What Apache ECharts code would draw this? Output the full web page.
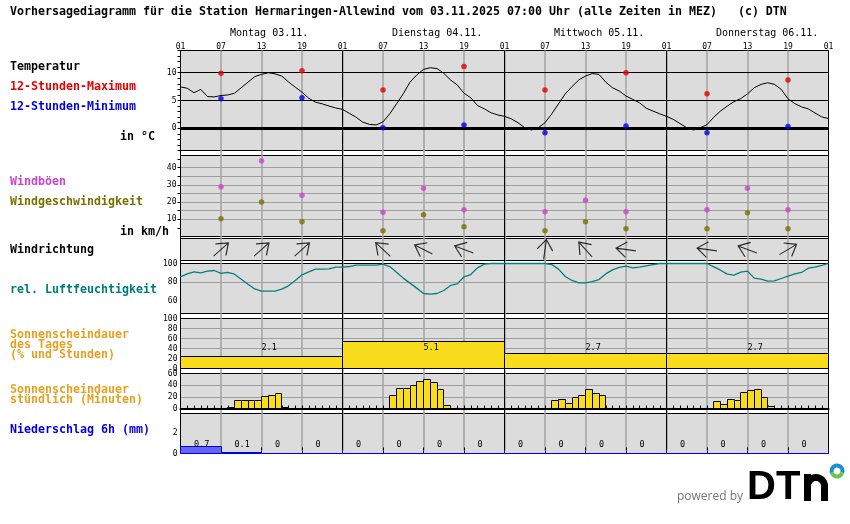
<!DOCTYPE html>
<html>
<head>
<meta charset="utf-8">
<title>Vorhersagediagramm</title>
<script src="https://cdn.jsdelivr.net/npm/echarts@6/dist/echarts.min.js"></script>
<style>
  html, body { margin: 0; padding: 0; background: #fff; }
  #main { width: 850px; height: 524px; }
</style>
</head>
<body>
<div id="main"></div>
<script>
// Stunden ab 01 Uhr am Montag, alle Reihen laufen ueber 96 Stunden
const hourLabels = ['01', '07', '13', '19', '01', '07', '13', '19', '01', '07', '13', '19', '01', '07', '13', '19', '01']
const dayLabels = ['Montag 03.11.', 'Dienstag 04.11.', 'Mittwoch 05.11.', 'Donnerstag 06.11.']

const tempLine = [
  7.45, 7.2, 6.4, 7.0, 5.7, 5.65, 5.9, 6.0, 6.3, 7.3, 8.3, 9.3, 9.7, 10, 9.8, 9.4, 8.35, 7.4, 6.5, 5.4, 4.7, 4.4, 4.0, 3.65,
  3.4, 2.7, 2.0, 1.1, 0.7, 0.6, 1.15, 2.6, 4.4, 6.2, 8.3, 9.6, 10.6, 10.9, 10.75, 9.9, 8.7, 7.8, 6.3, 5.5, 4.1, 3.5, 2.8, 2.4,
  2.15, 1.7, 1.0, 0.1, -0.3, 0.1, 1.0, 2.6, 4.4, 6.2, 7.5, 8.7, 9.4, 9.85, 9.7, 8.3, 7.3, 6.7, 5.8, 5.2, 4.6, 3.6, 3.1, 2.6,
  2.15, 1.6, 0.85, 0.1, -0.3, 0.1, 0.65, 2.0, 3.1, 4.0, 4.8, 5.35, 6.2, 7.3, 7.9, 8.2, 7.9, 7.0, 5.3, 4.45, 3.85, 3.5, 2.75, 2.05, 1.75
]
const humidityLine = [
  85.9, 89, 91.2, 90.1, 91.9, 92.6, 89.5, 90.5, 88.7, 83.4, 78, 73, 70.7, 70.7, 70.7, 72.8, 76.3, 82, 88, 91.2, 94, 94, 94.3, 96.1,
  96.1, 96.8, 98.2, 98.2, 98.2, 98.2, 99.3, 96.8, 90.8, 84.5, 79.2, 73.9, 68.2, 67.5, 68.2, 71.4, 76.7, 78.4, 85.9, 88.3, 95.4, 99.3, 100, 100,
  100, 100, 100, 100, 100, 100, 100, 98.9, 94, 86.2, 82, 79.5, 79.5, 80.9, 83, 89, 93.3, 95.8, 97.2, 95.4, 96.1, 97.5, 98.9, 100,
  100, 100, 100, 100, 100, 100, 100, 96.5, 92.9, 88.7, 87.6, 90.8, 91.9, 84.5, 83.4, 81.3, 81.6, 84.1, 86.6, 89, 90.5, 95, 96.1, 97.9, 100
]

// Punktwerte gehoeren zu den Stunden 07, 13 und 19
const tempHours = [6, 18, 30, 42, 54, 66, 78, 90]
const tempMax = [9.9, 10.35, 6.9, 11.1, 6.9, 10, 6.2, 8.7]
const tempMin = [5.3, 5.5, 0.1, 0.6, -0.8, 0.4, -0.8, 0.3]

const windHours = [6, 12, 18, 30, 36, 42, 54, 60, 66, 78, 84, 90]
const windGust = [28.9, 44, 24, 14, 28, 15.5, 14.3, 21, 14.3, 15.5, 28, 15.5]
const windSpeed = [10.3, 20, 8.5, 3.3, 12.6, 5.6, 3.3, 8.5, 4.5, 4.5, 13.8, 4.5]
const windPointing = [48, 48, 48, 313, 297, 291, 8, 318, 278, 278, 291, 59]

const sunDayValues = [24, 55, 30, 30]
const sunDayLabels = ['2.1', '5.1', '2.7', '2.7']

const sunHours = [7, 8, 9, 10, 11, 12, 13, 14, 15,
  31, 32, 33, 34, 35, 36, 37, 38, 39,
  55, 56, 57, 58, 59, 60, 61, 62,
  79, 80, 81, 82, 83, 84, 85, 86, 87]
const sunMinutes = [1, 13.7, 14, 14, 14, 20, 22, 25.7, 1.7,
  22, 34, 34, 39, 46, 50, 44.6, 32.6, 5,
  13.7, 15.4, 8.6, 18.9, 22, 32.6, 25.7, 22,
  12, 6.9, 15.4, 13.7, 27.4, 30.9, 32.6, 18.9, 3.4]

const rainValues = [0.7, 0.1, 0, 0, 0, 0, 0, 0, 0, 0, 0, 0, 0, 0, 0, 0]

const tempTicks = [-4, -3, -2, -1, 0, 1, 2, 3, 4, 5, 6, 7, 8, 9, 10, 11, 12, 13, 14]
const tempLines = [5, 10]
const windTicks = [5, 10, 15, 20, 25, 30, 35, 40, 45]
const humidityTicks = [60, 80, 100]
const rainTicks = [0, 2]

const MONO = '"DejaVu Sans Mono", monospace'
const GREY = '#9e9e9e'
const PANEL = '#dcdcdc'
const SUN = '#f9dc1c'
const LOGO_FONT = 'bold 40px "Liberation Sans", sans-serif'

// Panels von oben nach unten, top/height in Pixeln
const panels = [
  { top: 50.5, height: 100 },
  { top: 155.5, height: 81 },
  { top: 238.5, height: 22 },
  { top: 263.5, height: 50 },
  { top: 318.5, height: 50 },
  { top: 373.5, height: 35 },
  { top: 413.5, height: 40 }
]

const sideLabels = [
  ['Temperatur', 10, 67, '#000'],
  ['12-Stunden-Maximum', 10, 87, '#e60000'],
  ['12-Stunden-Minimum', 10, 107, '#0000e6'],
  ['in °C', 120, 137, '#000'],
  ['Windböen', 10, 182, '#cc44cc'],
  ['Windgeschwindigkeit', 10, 202, '#7a7000'],
  ['in km/h', 120, 232, '#000'],
  ['Windrichtung', 10, 250, '#000'],
  ['rel. Luftfeuchtigkeit', 10, 290, '#007b7b'],
  ['Sonnenscheindauer', 10, 335, '#e8a020'],
  ['des Tages', 10, 345, '#e8a020'],
  ['(% und Stunden)', 10, 355, '#e8a020'],
  ['Sonnenscheindauer', 10, 390, '#e8a020'],
  ['stündlich (Minuten)', 10, 400, '#e8a020'],
  ['Niederschlag 6h (mm)', 10, 430, '#0000e6']
]

function zip(xs, ys) {
  return xs.map((x, i) => [x, ys[i]])
}

function crisp(v) {
  return Math.round(v - 0.5) + 0.5
}

// Rechteck von Stunde a bis b, optional mit Text (value(3)) auf Hoehe textY
function blockItem(fill, stroke, textY) {
  return function (params, api) {
    const from = api.coord([api.value(0), api.value(2)])
    const to = api.coord([api.value(1), 0])
    const children = []
    if (api.value(2) > 0) {
      const x = crisp(from[0])
      const y = crisp(from[1])
      children.push({
        type: 'rect',
        shape: { x: x, y: y, width: crisp(to[0]) - x, height: crisp(to[1]) - y },
        style: { fill: fill, stroke: stroke, lineWidth: 1 }
      })
    }
    if (textY !== undefined) {
      const pos = api.coord([api.value(4), textY])
      children.push({
        type: 'text',
        x: pos[0],
        y: pos[1],
        style: { text: String(api.value(3)), font: '8.5px ' + MONO, fill: '#000', textAlign: 'left', textVerticalAlign: 'middle' },
        z2: 10
      })
    }
    return { type: 'group', children: children }
  }
}

function panelX(grid, extra) {
  return Object.assign({
    type: 'value', gridIndex: grid, min: 0, max: 96, interval: 24,
    axisLine: { show: false }, axisTick: { show: false }, axisLabel: { show: false }, splitLine: { show: false }
  }, extra || {})
}

function panelY(grid, min, max, extra) {
  return Object.assign({
    type: 'value', gridIndex: grid, min: min, max: max,
    axisLine: { show: false },
    axisTick: { show: false },
    axisLabel: { show: false },
    splitLine: { show: false }
  }, extra || {})
}

const labelStyle = { show: true, fontFamily: MONO, fontSize: 8, color: '#000', margin: 3 }
const greyLine = { show: true, lineStyle: { color: '#a3a3a3', width: 1.5 }, showMinLine: false, showMaxLine: false }

const grids = [
  { left: 180.5, width: 648, top: 50.5, height: 400, show: false }
].concat(panels.map(p => ({
  left: 180.5, width: 648, top: p.top, height: p.height,
  show: true, backgroundColor: PANEL, borderColor: '#000', borderWidth: 1
})))

const xAxes = [
  // durchgehende Stundenlinien ueber alle Panels
  panelX(0, {
    position: 'top', interval: 6, z: 1,
    axisTick: { show: true, length: 3, lineStyle: { color: '#000' } },
    axisLabel: { show: true, fontFamily: MONO, fontSize: 8, color: '#000', margin: 0, formatter: v => hourLabels[v / 6] },
    splitLine: greyLine
  }),
  panelX(0, {
    position: 'bottom', interval: 24, z: 1,
    splitLine: { show: true, lineStyle: { color: '#000', width: 1 } }
  }),
  panelX(1), panelX(2), panelX(3), panelX(4), panelX(5),
  panelX(6, {
    interval: 1, z: 1,
    axisLine: { show: true, lineStyle: { color: '#000', width: 2 } },
    axisTick: { show: true, inside: true, length: 3, lineStyle: { color: '#000' } }
  }),
  panelX(7, {
    interval: 6, z: 1,
    axisLine: { show: true, lineStyle: { color: '#0000e6', width: 1 } },
    axisTick: { show: true, inside: true, length: 3, lineStyle: { color: '#0000e6', width: 1 } }
  })
]

const innerLines = { show: true, showMinLine: false, showMaxLine: false, lineStyle: { color: GREY, width: 1 } }

const yAxes = [
  panelY(0, 0, 1),
  panelY(1, -4, 14, {
    axisTick: { show: true, length: 3, lineStyle: { color: '#000' }, customValues: tempTicks },
    axisLabel: Object.assign({}, labelStyle, { margin: 4, customValues: [0].concat(tempLines) })
  }),
  panelY(2, 0, 47, {
    axisTick: { show: true, length: 3, lineStyle: { color: '#000' }, customValues: windTicks },
    axisLabel: Object.assign({}, labelStyle, { margin: 4, customValues: windTicks.filter(v => v % 10 === 0) }),
    splitLine: innerLines
  }),
  panelY(3, 0, 1),
  panelY(4, 47, 100, {
    axisTick: { show: false, customValues: humidityTicks },
    axisLabel: Object.assign({}, labelStyle, { customValues: humidityTicks }),
    splitLine: innerLines
  }),
  panelY(5, 0, 100, { interval: 20, axisLabel: labelStyle, splitLine: innerLines }),
  panelY(6, 0, 60, { interval: 20, axisLabel: labelStyle, splitLine: innerLines }),
  panelY(7, 0, 3.9, {
    axisTick: { show: false, customValues: rainTicks },
    axisLabel: Object.assign({}, labelStyle, { customValues: rainTicks }),
    splitLine: innerLines
  })
]

function dotSeries(panel, xs, ys, color) {
  return {
    type: 'scatter', xAxisIndex: panel + 1, yAxisIndex: panel,
    data: zip(xs, ys), symbol: 'circle', symbolSize: 5.5, silent: true,
    itemStyle: { color: color }, z: 5
  }
}

const series = [
  {
    type: 'line', xAxisIndex: 2, yAxisIndex: 1,
    data: tempLine.map((v, h) => [h, v]),
    showSymbol: false, silent: true, z: 4,
    lineStyle: { color: '#000', width: 1 },
    markLine: {
      silent: true, symbol: 'none', label: { show: false }, animation: false,
      data: tempLines.map(v => ({ yAxis: v, lineStyle: { color: '#000', width: 1, type: 'solid' } }))
        .concat([{ yAxis: 0, lineStyle: { color: '#000', width: 3, type: 'solid' } }])
    }
  },
  dotSeries(1, tempHours, tempMax, '#e60000'),
  dotSeries(1, tempHours, tempMin, '#0000e6'),
  dotSeries(2, windHours, windGust, '#cc44cc'),
  dotSeries(2, windHours, windSpeed, '#7a7000'),
  {
    type: 'scatter', xAxisIndex: 4, yAxisIndex: 3, silent: true, z: 5,
    data: windHours.map((h, i) => ({ value: [h, 0.5], symbolRotate: -windPointing[i] })),
    symbol: 'path://M0,-10 L0,10 M-7.8,0.4 L0,-10 L7.8,0.4',
    symbolSize: [15.6, 20],
    itemStyle: { color: 'rgba(0,0,0,0)', borderColor: '#000', borderWidth: 1.2 }
  },
  {
    type: 'line', xAxisIndex: 5, yAxisIndex: 4,
    data: humidityLine.map((v, h) => [h, v]),
    showSymbol: false, silent: true, z: 8, clip: false,
    lineStyle: { color: '#008080', width: 1.3 }
  },
  {
    type: 'custom', xAxisIndex: 6, yAxisIndex: 5, silent: true, z: 4,
    renderItem: blockItem(SUN, '#000', 42),
    encode: { x: [0, 1, 4], y: 2 },
    data: sunDayValues.map((v, i) => [i * 24, (i + 1) * 24, v, sunDayLabels[i], i * 24 + 12])
  },
  {
    type: 'custom', xAxisIndex: 7, yAxisIndex: 6, silent: true, z: 4,
    renderItem: blockItem(SUN, '#000'),
    encode: { x: [0, 1], y: 2 },
    data: sunHours.map((h, i) => [h, h + 1, sunMinutes[i]])
  },
  {
    type: 'custom', xAxisIndex: 8, yAxisIndex: 7, silent: true, z: 4,
    renderItem: blockItem('#6666ff', '#0000e6', 0.8),
    encode: { x: [0, 1, 4], y: 2 },
    data: rainValues.map((v, i) => [i * 6, (i + 1) * 6, v, String(v), i * 6 + 2])
  }
]

const graphics = [
  {
    type: 'text', x: 10, y: 12,
    style: {
      text: 'Vorhersagediagramm für die Station Hermaringen-Allewind vom 03.11.2025 07:00 Uhr (alle Zeiten in MEZ)   (c) DTN',
      font: 'bold 11.63px ' + MONO, fill: '#000', textVerticalAlign: 'middle'
    }
  }
].concat(dayLabels.map((t, i) => ({
  type: 'text', x: 230 + i * 162, y: 33,
  style: { text: t, font: '10px ' + MONO, fill: '#000', textVerticalAlign: 'middle' }
}))).concat(sideLabels.map(l => ({
  type: 'text', x: l[1], y: l[2],
  style: { text: l[0], font: 'bold 11.63px ' + MONO, fill: l[3], textVerticalAlign: 'middle' }
}))).concat([
  { type: 'text', x: 677, y: 497, style: { text: 'powered by', font: '12px "Open Sans", sans-serif', fill: '#777', textVerticalAlign: 'middle' } },
  { type: 'text', x: 747, y: 488, style: { text: 'DT', font: LOGO_FONT, fill: '#000', textVerticalAlign: 'middle' } },
  { type: 'rect', shape: { x: 804, y: 474, width: 7, height: 27 }, style: { fill: '#000' } },
  { type: 'rect', shape: { x: 821, y: 486, width: 7, height: 15 }, style: { fill: '#000' } },
  { type: 'sector', shape: { cx: 816, cy: 486, r: 12, r0: 5, startAngle: Math.PI, endAngle: Math.PI * 2 }, style: { fill: '#000' } },
  { type: 'sector', shape: { cx: 837, cy: 471, r: 7.5, r0: 3.5, startAngle: Math.PI * 0.9, endAngle: Math.PI * 2.1 }, style: { fill: '#1b8fd0' } },
  { type: 'sector', shape: { cx: 837, cy: 471, r: 7.5, r0: 3.5, startAngle: Math.PI * 0.1, endAngle: Math.PI * 0.9 }, style: { fill: '#6cc24a' } }
])

const chart = echarts.init(document.getElementById('main'))
chart.setOption({
  animation: false,
  backgroundColor: '#fff',
  grid: grids,
  xAxis: xAxes,
  yAxis: yAxes,
  series: series,
  graphic: graphics
})
</script>
</body>
</html>
